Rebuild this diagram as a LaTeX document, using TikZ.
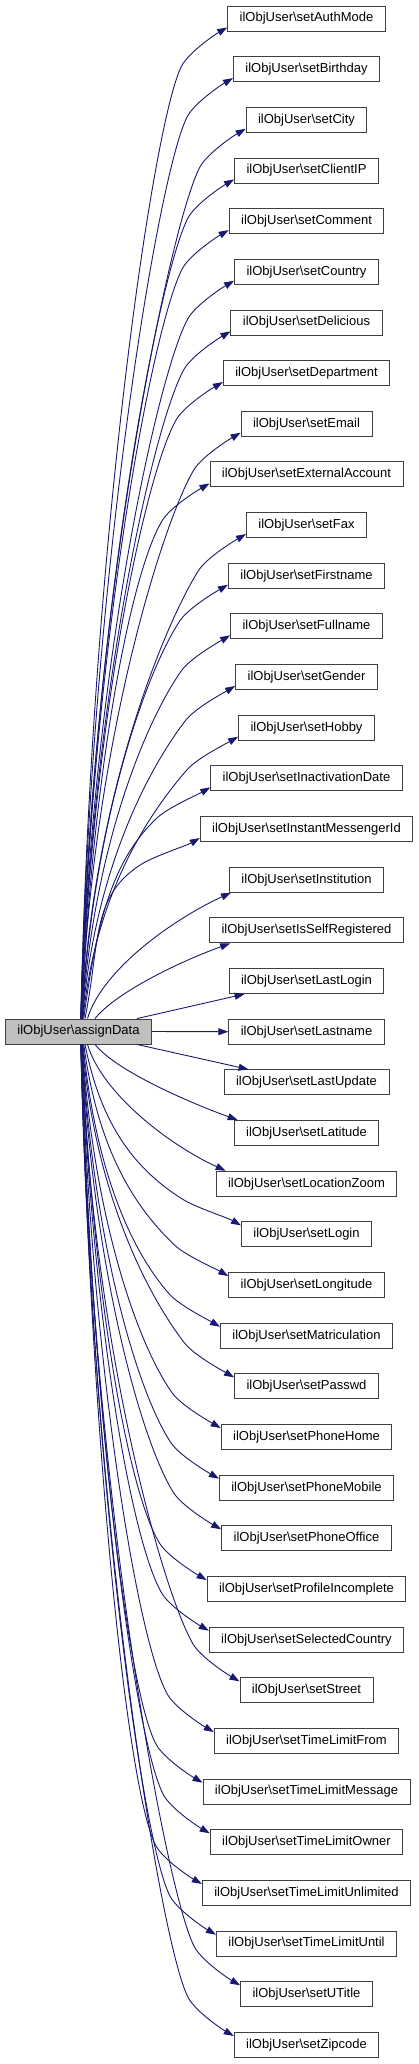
\documentclass[tikz,border=0pt]{standalone}
\usepackage{fontspec}
\setmainfont{Liberation Sans}
\usetikzlibrary{arrows.meta}
\definecolor{edgeblue}{HTML}{191970}
\definecolor{boxgray}{HTML}{404040}
\definecolor{mainfill}{HTML}{BFBFBF}
\begin{document}
\begin{tikzpicture}[x=1pt,y=-1pt,
  fn/.style={draw=boxgray, line width=0.9pt, minimum height=25pt, inner xsep=12pt, inner ysep=0pt, font=\fontsize{13}{15}\selectfont, anchor=center},
  mainbox/.style={fn, fill=mainfill},
  edge/.style={draw=edgeblue, line width=0.9pt, -{Triangle[length=10pt,width=7pt]}}]
\useasboundingbox (0,0) rectangle (419,2064);
\node[mainbox] (main) at (78.5,1031.5) {ilObjUser\textbackslash assignData};
\foreach \nm [count=\i from 0] in {setAuthMode,setBirthday,setCity,setClientIP,setComment,setCountry,setDelicious,setDepartment,setEmail,setExternalAccount,setFax,setFirstname,setFullname,setGender,setHobby,setInactivationDate,setInstantMessengerId,setInstitution,setIsSelfRegistered,setLastLogin,setLastname,setLastUpdate,setLatitude,setLocationZoom,setLogin,setLongitude,setMatriculation,setPasswd,setPhoneHome,setPhoneMobile,setPhoneOffice,setProfileIncomplete,setSelectedCountry,setStreet,setTimeLimitFrom,setTimeLimitMessage,setTimeLimitOwner,setTimeLimitUnlimited,setTimeLimitUntil,setUTitle,setZipcode} {
  \node[fn] (t\i) at (306.5,{18.5+\i*50.66}) {ilObjUser\textbackslash \nm};
}
% straight ones
\draw[edge] (main.east) -- (t20.west);
\draw[edge] ([xshift=58.5pt]main.north) -- ([xshift=16pt]t19.south west);
\draw[edge] ([xshift=58.5pt]main.south) -- ([xshift=25pt]t21.north west);
% near ones
\draw[edge] ([xshift=16.5pt]main.north) .. controls +(20,-25) and +(-55,20) .. ([xshift=21pt]t18.south west);
\draw[edge] ([xshift=9pt]main.north) .. controls +(15,-50) and +(-55,25) .. ([xshift=2pt]t17.south west);
\draw[edge] ([xshift=16.5pt]main.south) .. controls +(20,25) and +(-55,-20) .. ([xshift=4pt]t22.north west);
\draw[edge] ([xshift=9pt]main.south) .. controls +(15,50) and +(-55,-25) .. ([xshift=10pt]t23.north west);
% far ones above
\foreach \i in {0,...,16} {
  \pgfmathsetmacro\ff{2/(18-\i)}
  \pgfmathsetmacro\xs{1.5+15/(19-\i)}
  \path ([xshift=\xs pt]main.north); \pgfgetlastxy{\sxd}{\syd}
  \path ([yshift=4pt]t\i.south west); \pgfgetlastxy{\exd}{\eyd}
  \pgfmathsetmacro\sx{\sxd}\pgfmathsetmacro\sy{\syd}
  \pgfmathsetmacro\ex{\exd}\pgfmathsetmacro\ey{\eyd}
  \pgfmathsetmacro\px{\ex-44-14*\ff}\pgfmathsetmacro\py{\ey-(40-14*\ff)}
  \pgfmathsetmacro\hh{\py-\sy}
  \pgfmathsetmacro\aa{24+34*\ff}
  \pgfmathsetmacro\cc{min(60,0.4*\hh)}
  \pgfmathsetmacro\cax{\sx+0.1*\hh*\ff}\pgfmathsetmacro\cay{\sy+0.5*\hh}
  \pgfmathsetmacro\cbx{\px-\cc*sin(\aa)}\pgfmathsetmacro\cby{\py-\cc*cos(\aa)}
  \pgfmathsetmacro\dax{\px+15*sin(\aa)}\pgfmathsetmacro\day{\py+15*cos(\aa)}
  \pgfmathsetmacro\dbx{\ex-13}\pgfmathsetmacro\dby{\ey-7.5}
  \draw[edge] (\sx pt,\sy pt) .. controls (\cax pt,\cay pt) and (\cbx pt,\cby pt) .. (\px pt,\py pt)
     .. controls (\dax pt,\day pt) and (\dbx pt,\dby pt) .. (\ex pt,\ey pt);
}
% far ones below
\foreach \i in {24,...,40} {
  \pgfmathsetmacro\ff{2/(\i-22)}
  \pgfmathsetmacro\xs{1.5+15/(\i-21)}
  \path ([xshift=\xs pt]main.south); \pgfgetlastxy{\sxd}{\syd}
  \path ([yshift=-4pt]t\i.north west); \pgfgetlastxy{\exd}{\eyd}
  \pgfmathsetmacro\sx{\sxd}\pgfmathsetmacro\sy{\syd}
  \pgfmathsetmacro\ex{\exd}\pgfmathsetmacro\ey{\eyd}
  \pgfmathsetmacro\px{\ex-44-14*\ff}\pgfmathsetmacro\py{\ey+(40-14*\ff)}
  \pgfmathsetmacro\hh{\sy-\py}
  \pgfmathsetmacro\aa{24+34*\ff}
  \pgfmathsetmacro\cc{min(60,0.4*\hh)}
  \pgfmathsetmacro\cax{\sx+0.1*\hh*\ff}\pgfmathsetmacro\cay{\sy-0.5*\hh}
  \pgfmathsetmacro\cbx{\px-\cc*sin(\aa)}\pgfmathsetmacro\cby{\py+\cc*cos(\aa)}
  \pgfmathsetmacro\dax{\px+15*sin(\aa)}\pgfmathsetmacro\day{\py-15*cos(\aa)}
  \pgfmathsetmacro\dbx{\ex-13}\pgfmathsetmacro\dby{\ey+7.5}
  \draw[edge] (\sx pt,\sy pt) .. controls (\cax pt,\cay pt) and (\cbx pt,\cby pt) .. (\px pt,\py pt)
     .. controls (\dax pt,\day pt) and (\dbx pt,\dby pt) .. (\ex pt,\ey pt);
}
\end{tikzpicture}
\end{document}
